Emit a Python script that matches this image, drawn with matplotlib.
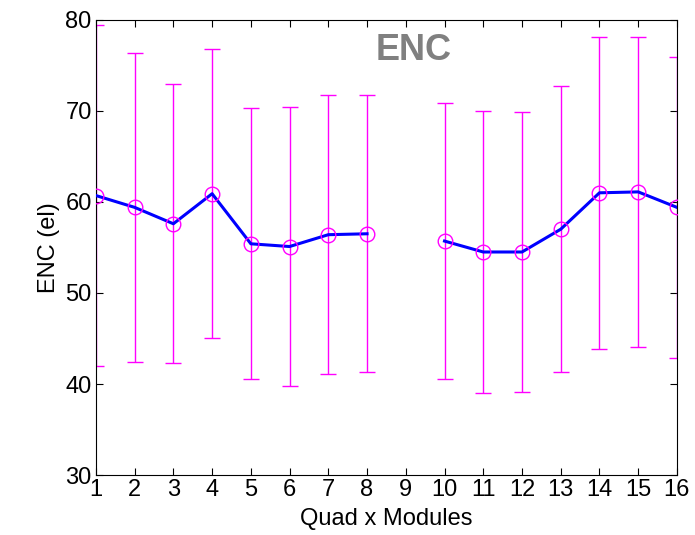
import matplotlib.pyplot as plt
import numpy as np

plt.rcParams['font.family'] = ['Liberation Sans', 'DejaVu Sans']

modules_a = [1, 2, 3, 4, 5, 6, 7, 8]
enc_a = [60.7, 59.4, 57.6, 60.9, 55.4, 55.1, 56.4, 56.5]
err_a = [18.7, 17.0, 15.3, 15.9, 14.9, 15.3, 15.3, 15.2]

modules_b = [10, 11, 12, 13, 14, 15, 16]
enc_b = [55.7, 54.5, 54.5, 57.0, 61.0, 61.1, 59.4]
err_b = [15.2, 15.5, 15.4, 15.7, 17.1, 17.0, 16.5]

fig = plt.figure(figsize=(6.95, 5.35), dpi=100, facecolor='w')
ax = fig.add_axes([0.138, 0.112, 0.836, 0.851])

for x, y, e in [(modules_a, enc_a, err_a), (modules_b, enc_b, err_b)]:
    ax.errorbar(x, y, yerr=e, fmt='none', ecolor='#ff00ff', elinewidth=1.0,
                capsize=6, capthick=1.0, zorder=2)
    ax.plot(x, y, '-', color='#0000ff', lw=2.2, zorder=3)
    ax.plot(x, y, 'o', mfc='none', mec='#ff00ff', ms=10.5, mew=1.0, zorder=4)

ax.set_xlim(1, 16)
ax.set_ylim(30, 80)
ax.set_xticks(range(1, 17))
ax.set_yticks(range(30, 81, 10))
ax.tick_params(direction='in', top=True, right=True, labelsize=17, length=5, pad=3)
ax.set_xlabel("Quad x Modules", fontsize=17, labelpad=5)
ax.set_ylabel("ENC (el)", fontsize=17, labelpad=4)
ax.text(9.2, 76.6, "ENC", color='#808080', fontsize=26, fontweight='bold',
        ha='center', va='center')

plt.savefig("out.png", dpi=100)
